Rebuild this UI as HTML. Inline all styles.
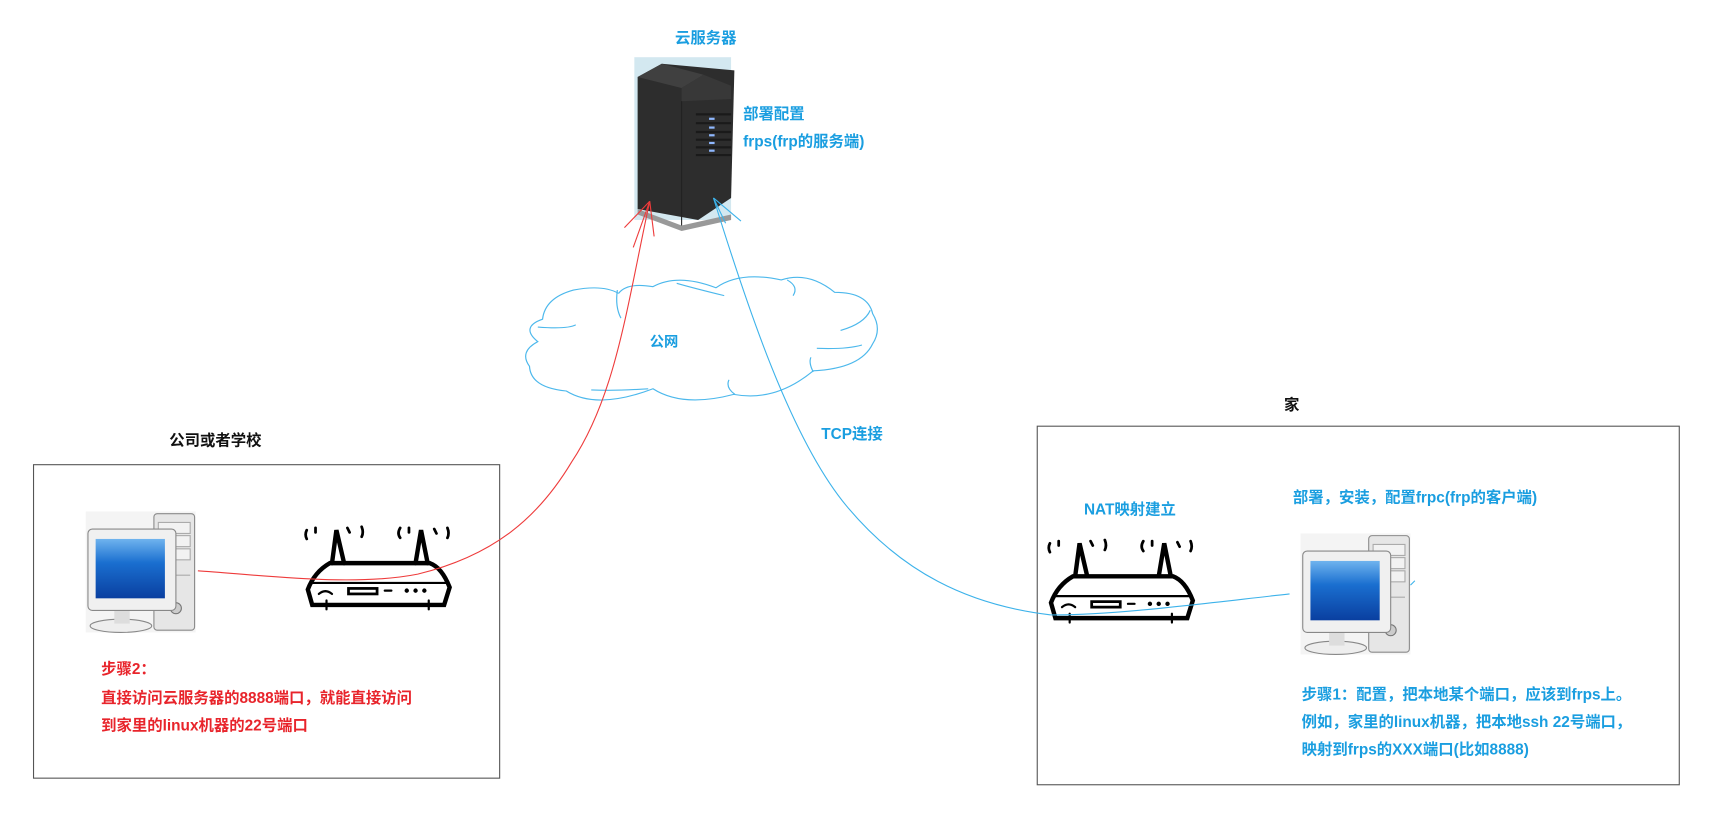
<!DOCTYPE html>
<html><head><meta charset="utf-8"><style>
html,body{margin:0;padding:0;background:#fff;}
svg{display:block}
text{font-family:"Liberation Sans","Noto Sans CJK SC",sans-serif;font-weight:bold;}
</style></head><body>
<svg width="1715" height="826" viewBox="0 0 1560 751" preserveAspectRatio="none" xmlns="http://www.w3.org/2000/svg">
<defs>
<linearGradient id="scr" x1="0" y1="0" x2="0" y2="1"><stop offset="0" stop-color="#6fb3ee"/><stop offset="0.4" stop-color="#1a6fd0"/><stop offset="1" stop-color="#0a3fa0"/></linearGradient>
<g id="pc">
<rect x="0" y="0" width="100" height="110" fill="#f4f4f4"/>
<rect x="62" y="2" width="37" height="106" rx="3" fill="#e6e6e6" stroke="#8a8a8a"/>
<rect x="66" y="10" width="29" height="10" fill="#f2f2f2" stroke="#aaa"/>
<rect x="66" y="22" width="29" height="10" fill="#f2f2f2" stroke="#aaa"/>
<rect x="66" y="34" width="29" height="10" fill="#f2f2f2" stroke="#aaa"/>
<line x1="66" y1="58" x2="95" y2="58" stroke="#aaa"/>
<circle cx="82" cy="88" r="5" fill="#ccc" stroke="#777"/>
<circle cx="77" cy="89" r="1.5" fill="#2c2"/>
<ellipse cx="32" cy="104" rx="28" ry="6" fill="#eee" stroke="#888"/>
<rect x="26" y="88" width="14" height="14" fill="#ddd"/>
<rect x="2" y="16" width="80" height="74" rx="4" fill="#f0f0f0" stroke="#888"/>
<rect x="9" y="25" width="63" height="54" fill="url(#scr)"/>
</g>
<g id="router" fill="none" stroke="#000" stroke-linecap="round">
<path d="M4 62 L8 76 L128 76 L133 60 Q126 42 115 38 L24 38 Q10 46 4 62 Z" stroke-width="4" fill="#fff"/>
<line x1="6" y1="56" x2="131" y2="56" stroke-width="2"/>
<path d="M26 38 L30 8 L37 38" stroke-width="4"/>
<path d="M102 38 L107 8 L113 38" stroke-width="4"/>
<rect x="41" y="61" width="26" height="5" stroke-width="2.5"/>
<line x1="74" y1="63" x2="80" y2="63" stroke-width="2"/>
<circle cx="94" cy="63" r="1" stroke-width="2"/><circle cx="102" cy="63" r="1" stroke-width="2"/><circle cx="110" cy="63" r="1" stroke-width="2"/>
<path d="M14 66 Q20 61 26 66" stroke-width="2"/>
<line x1="21" y1="72" x2="21" y2="80" stroke-width="2"/><line x1="114" y1="72" x2="114" y2="80" stroke-width="2"/>
<path d="M3 8 Q1 12 3 16 M11 6 L11 10 M40 6 L42 10 M53 5 Q55 10 53 14" stroke-width="2.5"/>
<path d="M88 6 Q85 11 88 15 M96 6 L96 10 M119 7 L121 11 M131 6 Q133 11 131 15" stroke-width="2.5"/>
</g>
</defs>

<!-- server -->
<rect x="577" y="52" width="88" height="148" fill="#d3e8f0"/>
<polygon points="580,70 602,58 668,64 665,180 635,200 580,190" fill="#2d2d2d"/>
<polygon points="580,70 602,58 640,68 620,80" fill="#404040"/>
<polygon points="620,80 640,68 665,78 665,90 620,92" fill="#383838"/>
<polygon points="580,190 620,205 665,195 665,200 620,210 580,195" fill="#999"/>
<g fill="#8fb8ff"><rect x="645" y="107" width="5" height="2"/><rect x="645" y="115" width="5" height="2"/><rect x="645" y="122" width="5" height="2"/><rect x="645" y="129" width="5" height="2"/><rect x="645" y="136" width="5" height="2"/></g>
<g stroke="#1a1a1a" stroke-width="2"><line x1="633" y1="104" x2="665" y2="104"/><line x1="633" y1="112" x2="665" y2="112"/><line x1="633" y1="120" x2="665" y2="120"/><line x1="633" y1="127" x2="665" y2="127"/><line x1="633" y1="134" x2="665" y2="134"/><line x1="633" y1="141" x2="665" y2="141"/></g>
<line x1="620" y1="92" x2="620" y2="205" stroke="#222"/>

<text x="614" y="39" font-size="14" fill="#1a9ee0">云服务器</text>
<text x="676" y="108" font-size="14" fill="#1a9ee0">部署配置</text>
<text x="676" y="133" font-size="14" fill="#1a9ee0">frps(frp的服务端)</text>

<!-- cloud -->
<g fill="none" stroke="#4cb8ec" stroke-width="1" transform="translate(-40 -27) scale(1.08 1.02)">
<path d="M558 288 Q565 278 587 282 Q608 270 640 283 Q660 268 695 276 Q718 268 740 287 Q768 287 772 306 Q780 320 772 333 Q762 355 722 357 Q690 385 655 378 Q612 390 587 373 Q540 392 514 375 Q484 372 483 353 Q474 340 490 331 Q475 318 494 311 Q496 292 520 285 Q545 280 558 288"/>
<path d="M557 285 Q555 300 560 310"/><path d="M607 279 Q620 283 647 290"/>
<path d="M700 276 Q710 282 705 290"/><path d="M770 303 Q765 315 745 321"/>
<path d="M763 334 Q750 338 725 337"/><path d="M722 358 Q718 350 720 345"/>
<path d="M656 378 Q648 372 651 365"/><path d="M522 316 Q515 320 490 318"/>
<path d="M583 373 Q555 375 535 374"/>
</g>
<text x="591" y="315" font-size="13" fill="#1a9ee0">公网</text>
<text x="747" y="399" font-size="14" fill="#1a9ee0">TCP连接</text>

<!-- boxes -->
<rect x="30.5" y="422.5" width="424" height="285" fill="none" stroke="#555"/>
<rect x="943.5" y="387.5" width="584" height="326" fill="none" stroke="#555"/>
<text x="154" y="405" font-size="14" fill="#111">公司或者学校</text>
<text x="1168" y="373" font-size="14" fill="#111">家</text>

<use href="#pc" x="78" y="465"/>
<use href="#router" x="276" y="474"/>
<use href="#pc" x="1183" y="485"/>
<use href="#router" x="952" y="486"/>

<!-- connectors -->
<g fill="none" stroke="#ee3b3b" stroke-width="1">
<path d="M591 183 C570 280 560 360 520 420 C490 470 450 505 380 522 C320 534 230 522 180 519"/>
<line x1="591" y1="183" x2="568" y2="207"/><line x1="591" y1="183" x2="576" y2="225"/><line x1="591" y1="183" x2="595" y2="215"/>
</g>
<g fill="none" stroke="#3cb2ea" stroke-width="1">
<path d="M649 180 C680 280 720 400 770 460 C820 520 880 550 955 559 C1010 560 1100 548 1173 540"/>
<line x1="649" y1="180" x2="674" y2="201"/><line x1="649" y1="180" x2="660" y2="203"/><line x1="1283" y1="532" x2="1287" y2="528"/>
</g>

<text x="986" y="468" font-size="14" fill="#1a9ee0">NAT映射建立</text>
<text x="1176" y="457" font-size="14" fill="#1a9ee0">部署，安装，配置frpc(frp的客户端)</text>

<g font-size="14" fill="#e8242b">
<text x="92" y="613">步骤2：</text>
<text x="92" y="639">直接访问云服务器的8888端口，就能直接访问</text>
<text x="92" y="664">到家里的linux机器的22号端口</text>
</g>
<g font-size="14" fill="#1a9ee0">
<text x="1184" y="636">步骤1：配置，把本地某个端口，应该到frps上。</text>
<text x="1184" y="661">例如，家里的linux机器，把本地ssh 22号端口，</text>
<text x="1184" y="686">映射到frps的XXX端口(比如8888)</text>
</g>
</svg>
</body></html>
